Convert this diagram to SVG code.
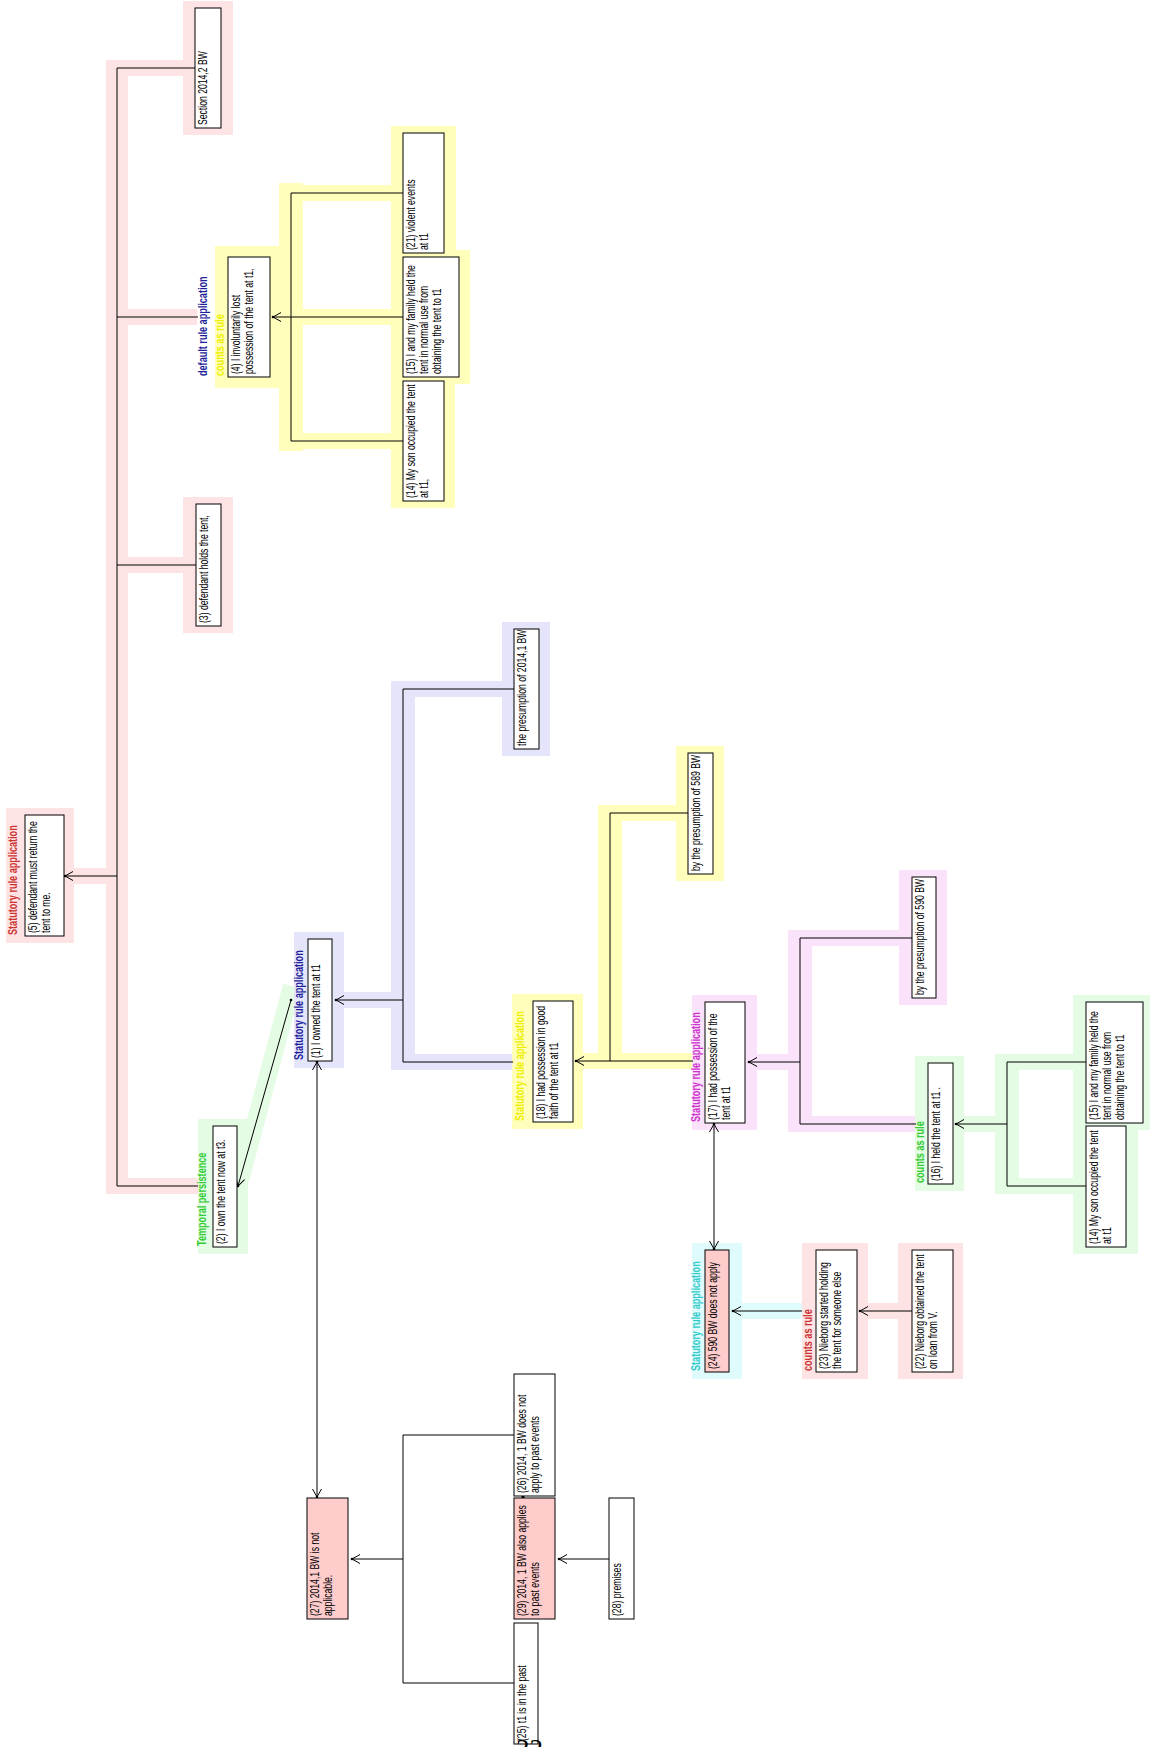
<svg xmlns="http://www.w3.org/2000/svg" width="1150" height="1747" viewBox="0 0 1150 1747">
<defs>
<style>
.b{fill:#fff;stroke:#000;stroke-width:1}
.bp{fill:#ffcccc;stroke:#000;stroke-width:1}
.t{font-family:"Liberation Sans",Arial,sans-serif;font-size:12px;fill:#000}
.l{font-family:"Liberation Sans",Arial,sans-serif;font-size:13px;font-weight:bold}
.c line,.c path{stroke:#000;stroke-width:1;fill:none}
.a{marker-end:url(#ah)}
.d{marker-start:url(#ah);marker-end:url(#ah)}
.hp{fill:#fde3e3}.hy{fill:#ffffbb}.hl{fill:#e4e4fa}.hg{fill:#e4fbe4}.hm{fill:#fbe2fb}.hc{fill:#e0fbfb}
</style>
<marker id="ah" viewBox="-10 -6 12 12" refX="0" refY="0" markerWidth="12" markerHeight="12" markerUnits="userSpaceOnUse" orient="auto-start-reverse">
<path d="M-8,-4.5 L0,0 L-8,4.5" fill="none" stroke="#000" stroke-width="1"/>
<circle cx="0" cy="0" r="1.3" fill="#000"/>
</marker>
</defs>
<rect x="0" y="0" width="1150" height="1747" fill="#fff"/>

<g id="highlights">
<g class="hp">
<rect x="106" y="60" width="22" height="1134"/>
<rect x="117" y="60" width="66" height="16"/>
<rect x="117" y="309" width="80" height="16"/>
<rect x="117" y="557" width="66" height="16"/>
<rect x="117" y="1178" width="81" height="16"/>
<rect x="74" y="868" width="43" height="16"/>
<rect x="6" y="808" width="68" height="135"/>
<rect x="183" y="1" width="50" height="134"/>
<rect x="183" y="497" width="50" height="136"/>
</g>
<g class="hy">
<rect x="215" y="246" width="64" height="142"/>
<rect x="279" y="183" width="24" height="268"/>
<rect x="291" y="185" width="100" height="16"/>
<rect x="279" y="309" width="112" height="16"/>
<rect x="291" y="433" width="100" height="16"/>
<rect x="391" y="126" width="65" height="134"/>
<rect x="391" y="250" width="79" height="134"/>
<rect x="391" y="374" width="64" height="134"/>
</g>
<g class="hg">
<rect x="198" y="1119" width="50" height="135"/>
</g>
<line x1="292" y1="986" x2="240" y2="1180" stroke="#e4fbe4" stroke-width="18"/>
<g class="hl">
<rect x="294" y="932" width="50" height="136"/>
<rect x="391" y="681" width="24" height="389"/>
<rect x="403" y="681" width="99" height="16"/>
<rect x="344" y="992" width="59" height="16"/>
<rect x="403" y="1054" width="109" height="16"/>
<rect x="502" y="622" width="48" height="134"/>
</g>
<g class="hy">
<rect x="512" y="994" width="71" height="135"/>
<rect x="598" y="805" width="24" height="264"/>
<rect x="610" y="805" width="66" height="16"/>
<rect x="583" y="1053" width="109" height="16"/>
<rect x="676" y="746" width="48" height="135"/>
</g>
<g class="hm">
<rect x="692" y="995" width="65" height="135"/>
<rect x="788" y="930" width="24" height="202"/>
<rect x="800" y="930" width="99" height="16"/>
<rect x="757" y="1054" width="31" height="16"/>
<rect x="812" y="1116" width="103" height="16"/>
<rect x="899" y="870" width="48" height="135"/>
</g>
<g class="hg">
<rect x="915" y="1056" width="49" height="135"/>
<rect x="995" y="1054" width="24" height="140"/>
<rect x="1019" y="1054" width="54" height="16"/>
<rect x="964" y="1116" width="31" height="16"/>
<rect x="1019" y="1178" width="54" height="16"/>
<rect x="1073" y="995" width="80" height="135"/>
<rect x="1073" y="1119" width="65" height="135"/>
</g>
<g class="hc">
<rect x="692" y="1243" width="50" height="136"/>
<rect x="742" y="1303" width="60" height="16"/>
</g>
<g class="hp">
<rect x="802" y="1243" width="66" height="136"/>
<rect x="868" y="1303" width="30" height="16"/>
<rect x="898" y="1243" width="65" height="136"/>
</g>
</g>

<g id="connectors" class="c">
<line x1="117" y1="68" x2="117" y2="1186"/>
<line x1="117" y1="68" x2="195" y2="68"/>
<line x1="117" y1="317" x2="198" y2="317"/>
<line x1="117" y1="565" x2="196" y2="565"/>
<line x1="117" y1="1186" x2="198" y2="1186"/>
<line class="a" x1="117" y1="876" x2="65" y2="876"/>

<line x1="291" y1="193" x2="291" y2="441"/>
<line x1="291" y1="193" x2="403" y2="193"/>
<line x1="291" y1="317" x2="403" y2="317"/>
<line x1="291" y1="441" x2="403" y2="441"/>
<line class="a" x1="291" y1="317" x2="273" y2="317"/>

<line class="a" x1="291" y1="1000" x2="238" y2="1186"/>
<circle cx="291" cy="1000" r="1.3" fill="#000"/>

<line x1="403" y1="689" x2="403" y2="1062"/>
<line x1="403" y1="689" x2="514" y2="689"/>
<line x1="403" y1="1062" x2="513" y2="1062"/>
<line class="a" x1="403" y1="1000" x2="336" y2="1000"/>
<line class="d" x1="317" y1="1062" x2="317" y2="1497"/>

<line x1="610" y1="813" x2="610" y2="1061"/>
<line x1="610" y1="813" x2="688" y2="813"/>
<line x1="610" y1="1061" x2="693" y2="1061"/>
<line class="a" x1="610" y1="1061" x2="576" y2="1061"/>

<line x1="800" y1="938" x2="800" y2="1124"/>
<line x1="800" y1="938" x2="912" y2="938"/>
<line x1="800" y1="1124" x2="916" y2="1124"/>
<line class="a" x1="800" y1="1062" x2="749" y2="1062"/>
<line class="d" x1="714" y1="1124" x2="714" y2="1249"/>

<line x1="1007" y1="1062" x2="1007" y2="1186"/>
<line x1="1007" y1="1062" x2="1086" y2="1062"/>
<line x1="1007" y1="1186" x2="1086" y2="1186"/>
<line class="a" x1="1007" y1="1124" x2="956" y2="1124"/>

<line class="a" x1="802" y1="1311" x2="733" y2="1311"/>
<line class="a" x1="912" y1="1311" x2="860" y2="1311"/>

<line x1="403" y1="1435" x2="403" y2="1683"/>
<line x1="403" y1="1435" x2="514" y2="1435"/>
<line x1="403" y1="1683" x2="514" y2="1683"/>
<line class="a" x1="403" y1="1559" x2="352" y2="1559"/>
<line class="a" x1="609" y1="1559" x2="559" y2="1559"/>
<line class="d" x1="523" y1="1496" x2="523" y2="1498"/>
</g>

<g id="n5">
<rect class="b" x="25" y="815" width="39" height="121"/>
<text class="l" fill="#cc3333" transform="translate(17,935) rotate(-90) scale(0.7,1)">Statutory rule application</text>
<text class="t" transform="translate(37,933) rotate(-90) scale(0.72,1)"><tspan x="0" y="0">(5) defendant must return the</tspan><tspan x="0" y="13">tent to me.</tspan></text>
</g>
<g id="s2014-2">
<rect class="b" x="195" y="8" width="26" height="120"/>
<text class="t" transform="translate(207,125) rotate(-90) scale(0.72,1)">Section 2014,2 BW</text>
</g>
<g id="n4">
<rect class="b" x="228" y="257" width="42" height="120"/>
<text class="l" fill="#1f1f99" transform="translate(207,376) rotate(-90) scale(0.7,1)">default rule application</text>
<text class="l" fill="#eeee00" transform="translate(224,376) rotate(-90) scale(0.7,1)">counts as rule</text>
<text class="t" transform="translate(240,374) rotate(-90) scale(0.72,1)"><tspan x="0" y="0">(4) I involuntarily lost</tspan><tspan x="0" y="13">possession of the tent at t1,</tspan></text>
</g>
<g id="n21">
<rect class="b" x="403" y="133" width="41" height="120"/>
<text class="t" transform="translate(415,250) rotate(-90) scale(0.72,1)"><tspan x="0" y="0">(21) violent events</tspan><tspan x="0" y="13">at t1</tspan></text>
</g>
<g id="n15a">
<rect class="b" x="403" y="257" width="56" height="120"/>
<text class="t" transform="translate(415,374) rotate(-90) scale(0.72,1)"><tspan x="0" y="0">(15) I and my family held the</tspan><tspan x="0" y="13">tent in normal use from</tspan><tspan x="0" y="26">obtaining the tent to t1</tspan></text>
</g>
<g id="n14a">
<rect class="b" x="403" y="381" width="41" height="120"/>
<text class="t" transform="translate(415,498) rotate(-90) scale(0.72,1)"><tspan x="0" y="0">(14) My son occupied the tent</tspan><tspan x="0" y="13">at t1,</tspan></text>
</g>
<g id="n3">
<rect class="b" x="196" y="504" width="25" height="122"/>
<text class="t" transform="translate(208,623) rotate(-90) scale(0.72,1)">(3) defendant holds the tent,</text>
</g>
<g id="n2">
<rect class="b" x="213" y="1126" width="24" height="121"/>
<text class="l" fill="#33cc33" transform="translate(206,1246) rotate(-90) scale(0.7,1)">Temporal persistence</text>
<text class="t" transform="translate(225,1244) rotate(-90) scale(0.72,1)">(2) I own the tent now at t3.</text>
</g>
<g id="n1">
<rect class="b" x="308" y="939" width="24" height="122"/>
<text class="l" fill="#1f1f99" transform="translate(303,1060) rotate(-90) scale(0.7,1)">Statutory rule application</text>
<text class="t" transform="translate(320,1058) rotate(-90) scale(0.72,1)">(1) I owned the tent at t1</text>
</g>
<g id="p2014-1">
<rect class="b" x="514" y="629" width="25" height="120"/>
<text class="t" transform="translate(526,746) rotate(-90) scale(0.72,1)">the presumption of 2014,1 BW</text>
</g>
<g id="n18">
<rect class="b" x="533" y="1001" width="40" height="121"/>
<text class="l" fill="#eeee00" transform="translate(524,1121) rotate(-90) scale(0.7,1)">Statutory rule application</text>
<text class="t" transform="translate(545,1119) rotate(-90) scale(0.72,1)"><tspan x="0" y="0">(18) I had possession in good</tspan><tspan x="0" y="13">faith of the tent at t1</tspan></text>
</g>
<g id="p589">
<rect class="b" x="688" y="753" width="25" height="121"/>
<text class="t" transform="translate(700,871) rotate(-90) scale(0.72,1)">by the presumption of 589 BW</text>
</g>
<g id="n17">
<rect class="b" x="705" y="1002" width="40" height="121"/>
<text class="l" fill="#cc33cc" transform="translate(700,1122) rotate(-90) scale(0.7,1)">Statutory rule application</text>
<text class="t" transform="translate(717,1120) rotate(-90) scale(0.72,1)"><tspan x="0" y="0">(17) I had possession of the</tspan><tspan x="0" y="13">tent at t1</tspan></text>
</g>
<g id="p590">
<rect class="b" x="912" y="877" width="24" height="121"/>
<text class="t" transform="translate(924,995) rotate(-90) scale(0.72,1)">by the presumption of 590 BW</text>
</g>
<g id="n16">
<rect class="b" x="928" y="1063" width="25" height="121"/>
<text class="l" fill="#33cc33" transform="translate(924,1183) rotate(-90) scale(0.7,1)">counts as rule</text>
<text class="t" transform="translate(940,1181) rotate(-90) scale(0.72,1)">(16) I held the tent at t1 .</text>
</g>
<g id="n15b">
<rect class="b" x="1086" y="1002" width="57" height="121"/>
<text class="t" transform="translate(1098,1120) rotate(-90) scale(0.72,1)"><tspan x="0" y="0">(15) I and my family held the</tspan><tspan x="0" y="13">tent in normal use from</tspan><tspan x="0" y="26">obtaining the tent to t1</tspan></text>
</g>
<g id="n14b">
<rect class="b" x="1086" y="1126" width="40" height="121"/>
<text class="t" transform="translate(1098,1244) rotate(-90) scale(0.72,1)"><tspan x="0" y="0">(14) My son occupied the tent</tspan><tspan x="0" y="13">at t1</tspan></text>
</g>
<g id="n24">
<rect class="bp" x="705" y="1250" width="24" height="122"/>
<text class="l" fill="#33cccc" transform="translate(700,1371) rotate(-90) scale(0.7,1)">Statutory rule application</text>
<text class="t" transform="translate(717,1369) rotate(-90) scale(0.72,1)">(24) 590 BW does not apply</text>
</g>
<g id="n23">
<rect class="b" x="816" y="1250" width="41" height="122"/>
<text class="l" fill="#cc3333" transform="translate(812,1371) rotate(-90) scale(0.7,1)">counts as rule</text>
<text class="t" transform="translate(828,1369) rotate(-90) scale(0.72,1)"><tspan x="0" y="0">(23) Nieborg started holding</tspan><tspan x="0" y="13">the tent for someone else</tspan></text>
</g>
<g id="n22">
<rect class="b" x="912" y="1250" width="41" height="122"/>
<text class="t" transform="translate(924,1369) rotate(-90) scale(0.72,1)"><tspan x="0" y="0">(22) Nieborg obtained the tent</tspan><tspan x="0" y="13">on loan from V.</tspan></text>
</g>
<g id="n27">
<rect class="bp" x="307" y="1498" width="41" height="121"/>
<text class="t" transform="translate(319,1616) rotate(-90) scale(0.72,1)"><tspan x="0" y="0">(27) 2014,1 BW is not</tspan><tspan x="0" y="13">applicable.</tspan></text>
</g>
<g id="n26">
<rect class="b" x="514" y="1374" width="41" height="122"/>
<text class="t" transform="translate(526,1493) rotate(-90) scale(0.72,1)"><tspan x="0" y="0">(26) 2014, 1 BW does not</tspan><tspan x="0" y="13">apply to past events</tspan></text>
</g>
<g id="n29">
<rect class="bp" x="514" y="1498" width="41" height="121"/>
<text class="t" transform="translate(526,1616) rotate(-90) scale(0.72,1)"><tspan x="0" y="0">(29) 2014, 1 BW also applies</tspan><tspan x="0" y="13">to past events</tspan></text>
</g>
<g id="n25">
<rect class="b" x="514" y="1623" width="24" height="121"/>
<text class="t" transform="translate(526,1741) rotate(-90) scale(0.72,1)">(25) t1 is in the past</text>
</g>
<g id="n28">
<rect class="b" x="609" y="1498" width="25" height="121"/>
<text class="t" transform="translate(621,1616) rotate(-90) scale(0.72,1)">(28) premises</text>
</g>
<text x="516" y="1758" font-family="'Liberation Serif',serif" font-size="27" fill="#000">32</text>
</svg>
